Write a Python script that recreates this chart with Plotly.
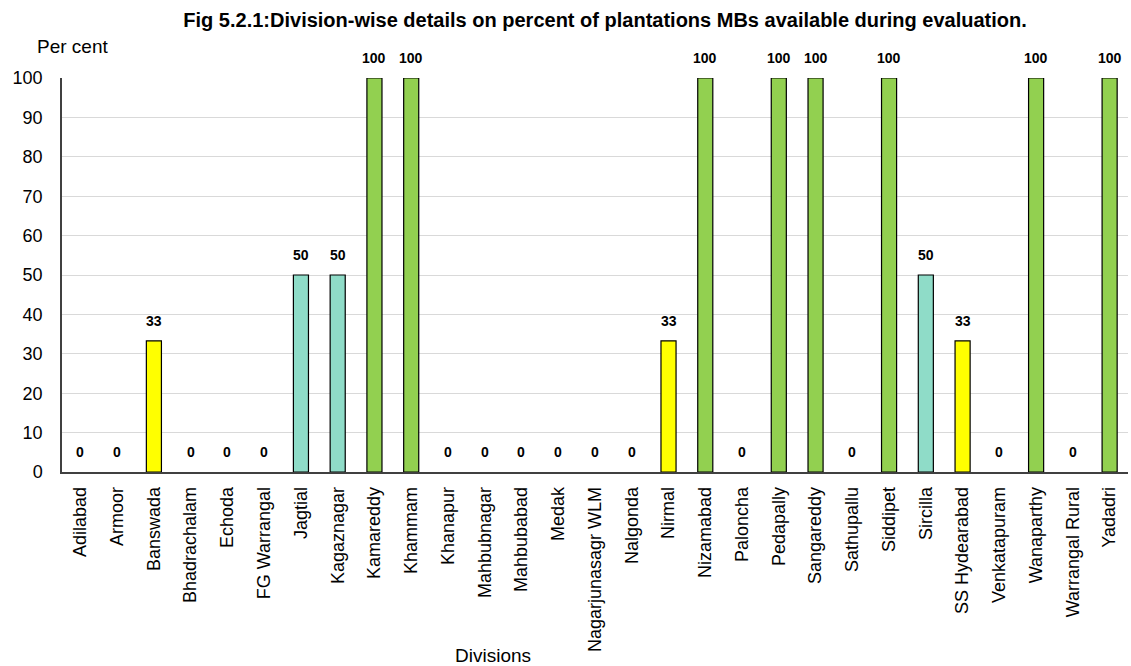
import plotly.graph_objects as go

divisions = ["Adilabad", "Armoor", "Banswada", "Bhadrachalam", "Echoda", "FG Warrangal",
             "Jagtial", "Kagaznagar", "Kamareddy", "Khammam", "Khanapur", "Mahbubnagar",
             "Mahbubabad", "Medak", "Nagarjunasagr WLM", "Nalgonda", "Nirmal", "Nizamabad",
             "Paloncha", "Pedapally", "Sangareddy", "Sathupallu", "Siddipet", "Sircilla",
             "SS Hydearabad", "Venkatapuram", "Wanaparthy", "Warrangal Rural", "Yadadri"]
percent = [0, 0, 33.3, 0, 0, 0, 50, 50, 100, 100, 0, 0, 0, 0, 0, 0, 33.3, 100,
           0, 100, 100, 0, 100, 50, 33.3, 0, 100, 0, 100]

def colour(v):
    if v >= 100:
        return "#92D050"
    if v >= 50:
        return "#8FDCC8"
    if v > 0:
        return "#FFFF00"
    return "#FFFFFF"

FONT = "Liberation Sans, Arial, sans-serif"

fig = go.Figure()
fig.add_trace(go.Bar(
    x=divisions, y=percent,
    marker=dict(color=[colour(v) for v in percent],
                line=dict(color="#000000", width=[1.2 if v > 0 else 0 for v in percent])),
    hoverinfo="x+y",
))

for d, v in zip(divisions, percent):
    fig.add_annotation(x=d, y=v, text="<b>%d</b>" % round(v), showarrow=False,
                       yshift=20, yanchor="middle", xanchor="center",
                       font=dict(family=FONT, size=14, color="#000000"))

fig.add_annotation(xref="paper", yref="paper", x=-0.0253, y=1.079, text="Per cent",
                   showarrow=False, xanchor="left", yanchor="middle",
                   font=dict(family=FONT, size=19, color="#000000"))
fig.add_annotation(xref="paper", yref="paper", x=0.404, y=-0.4645, text="Divisions",
                   showarrow=False, xanchor="center", yanchor="middle",
                   font=dict(family=FONT, size=19, color="#000000"))

fig.update_layout(
    width=1131, height=666,
    margin=dict(l=62, r=3, t=78, b=194),
    paper_bgcolor="white", plot_bgcolor="white",
    bargap=0.59,
    showlegend=False,
    title=dict(text="<b>Fig 5.2.1:Division-wise details on percent of plantations MBs available during evaluation.</b>",
               xref="container", yref="container", x=0.535, y=1 - 20 / 666,
               xanchor="center", yanchor="middle",
               font=dict(family=FONT, size=20, color="#000000")),
    xaxis=dict(tickangle=-90, tickfont=dict(family=FONT, size=18, color="#000000"),
               showline=True, linecolor="#404040", linewidth=1.5, ticks="",
               showgrid=False, ticklabelstandoff=6),
    yaxis=dict(range=[0, 100], dtick=10, tickfont=dict(family=FONT, size=18, color="#000000"),
               showline=True, linecolor="#404040", linewidth=1.5, ticks="",
               showgrid=True, gridcolor="#D9D9D9", gridwidth=1, zeroline=False,
               ticklabelstandoff=14),
)

fig.write_html("out.html", config={"displayModeBar": False},
               post_script="document.body.style.margin='0px';")
